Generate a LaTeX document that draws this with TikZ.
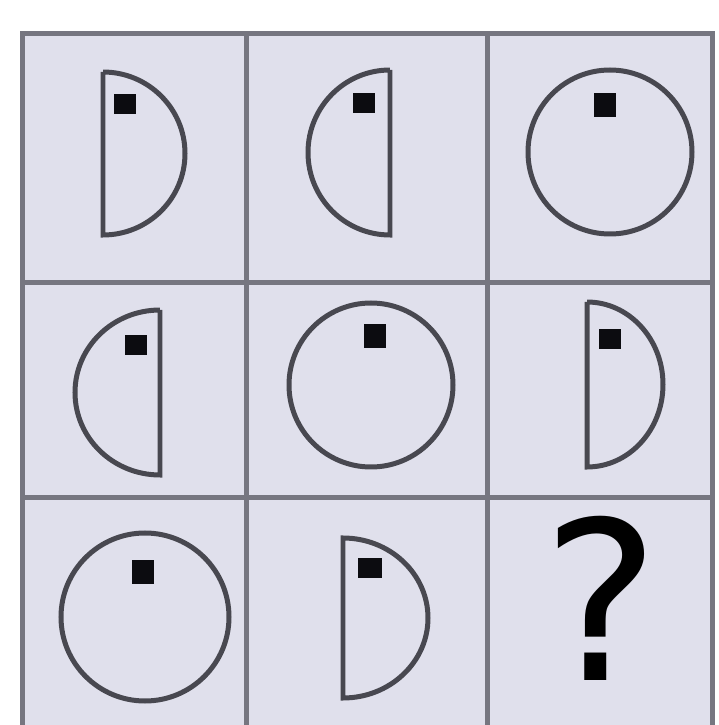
\documentclass[tikz,border=0pt]{standalone}
\usepackage{fontspec}
\setmainfont{Liberation Sans}
\newfontfamily\askfont{DejaVu Sans}
\usetikzlibrary{positioning}
\definecolor{cellfill}{RGB}{224, 224, 236}
\definecolor{gridline}{RGB}{118, 118, 128}
\definecolor{figline}{RGB}{72, 72, 80}
\definecolor{spotblack}{RGB}{12, 12, 16}
\tikzset{
    cell/.style={rectangle, draw=gridline, fill=cellfill, line width=1mm, inner sep=0pt, outer sep=0pt, minimum width=4.5cm},
    figure/.style={draw=figline, line width=1mm},
    spot/.style={rectangle, fill=spotblack, inner sep=0pt, minimum width=4.6mm, minimum height=4.2mm}
}

\begin{document}
\begin{tikzpicture}[x=0.02cm, y=0.02cm]
            \fill [white] (0,0) rectangle (719,725);
            \useasboundingbox (0,0) rectangle (719,725);

            \node (c11) [cell, minimum height=5cm] at (134.5,567) {};
            \node (c12) [cell, minimum height=5cm, minimum width=4.82cm, right=0cm of c11] {};
            \node (c13) [cell, minimum height=5cm, right=0cm of c12] {};
            \node (c21) [cell, minimum height=4.3cm, below=0cm of c11] {};
            \node (c22) [cell, minimum height=4.3cm, minimum width=4.82cm, right=0cm of c21] {};
            \node (c23) [cell, minimum height=4.3cm, right=0cm of c22] {};
            \node (c31) [cell, minimum height=4.74cm, below=0cm of c21] {};
            \node (c32) [cell, minimum height=4.74cm, minimum width=4.82cm, right=0cm of c31] {};
            \node (c33) [cell, minimum height=4.74cm, right=0cm of c32] {};

            \draw [figure] (103,653) -- (103,490) arc[start angle=-90, end angle=90, x radius=82, y radius=81.5] -- cycle;
            \draw [figure] (390,655) -- (390,490) arc[start angle=-90, end angle=-270, x radius=82, y radius=82.5] -- cycle;
            \draw [figure] (610,573) circle[radius=82];
            \draw [figure] (160,415) -- (160,250) arc[start angle=-90, end angle=-270, x radius=85, y radius=82.5] -- cycle;
            \draw [figure] (371,340) circle[radius=82];
            \draw [figure] (587,423) -- (587,258) arc[start angle=-90, end angle=90, x radius=76, y radius=82.5] -- cycle;
            \draw [figure] (145,108) circle[radius=84];
            \draw [figure] (343,187) -- (343,27) arc[start angle=-90, end angle=90, x radius=85, y radius=80] -- cycle;

            \node (s11) [spot] at (125,621) {};
            \node (s12) [spot] at (364,622) {};
            \node (s13) [spot, minimum height=4.8mm] at (605,620) {};
            \node (s21) [spot] at (136,380) {};
            \node (s22) [spot, minimum height=4.8mm] at (375,389) {};
            \node (s23) [spot] at (610,386) {};
            \node (s31) [spot, minimum height=5mm] at (143,153) {};
            \node (s32) [spot, minimum width=5mm] at (370,157) {};

            \node (ask) [inner sep=0pt, text=black, font=\askfont] at (601,127) {\fontsize{126}{126}\selectfont ?};
        \end{tikzpicture}
\end{document}
